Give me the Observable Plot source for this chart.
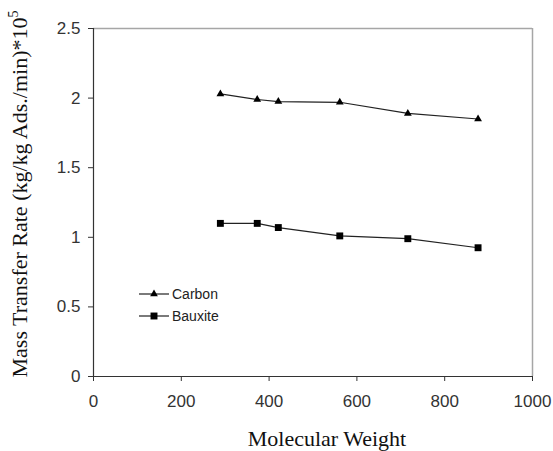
<!DOCTYPE html>
<html>
<head>
<meta charset="utf-8">
<script src="https://cdn.jsdelivr.net/npm/d3@7"></script>
<script src="https://cdn.jsdelivr.net/npm/@observablehq/plot@0.6"></script>
<style>
  html, body { margin: 0; padding: 0; background: #fff; }
  #chart svg { display: block; }
</style>
</head>
<body>
<div id="chart"></div>
<script>
// Molecular weight of the adsorbate (x) for each measurement
const molecularWeight = [289, 373, 421, 561, 716, 876];
// Mass transfer rate (kg/kg Ads./min) * 10^5 for each adsorbent
const carbonRate   = [2.03, 1.99, 1.975, 1.97, 1.89, 1.85];
const bauxiteRate  = [1.10, 1.10, 1.07, 1.01, 0.99, 0.925];
const seriesNames  = ["Carbon", "Bauxite"];
const xTicks = [0, 200, 400, 600, 800, 1000];
const yTicks = [0, 0.5, 1, 1.5, 2, 2.5];

const carbon  = molecularWeight.map((x, i) => ({x, y: carbonRate[i]}));
const bauxite = molecularWeight.map((x, i) => ({x, y: bauxiteRate[i]}));

const W = 553, H = 451;
const margin = {left: 93, right: 21, top: 28, bottom: 75};
const tickFont = "'Liberation Sans', Arial, sans-serif";
const titleFont = "'Liberation Serif', 'Times New Roman', serif";

const plot = Plot.plot({
  width: W,
  height: H,
  marginLeft: margin.left,
  marginRight: margin.right,
  marginTop: margin.top,
  marginBottom: margin.bottom,
  style: {background: "#fff", fontFamily: tickFont, fontSize: "17px", color: "#222"},
  x: {domain: [0, 1000]},
  y: {domain: [0, 2.5]},
  marks: [
    // light frame on the top and right sides
    Plot.ruleY([2.5], {stroke: "#a6a6a6", strokeWidth: 1.5}),
    Plot.ruleX([1000], {stroke: "#a6a6a6", strokeWidth: 1.5}),
    // axes
    Plot.axisX({ticks: xTicks, tickSize: 5, tickPadding: 13, label: null,
      stroke: "#333", fill: "#333", fontSize: 17, tickFormat: d => String(d)}),
    Plot.axisY({ticks: yTicks, tickSize: 5, tickPadding: 8, label: null,
      stroke: "#333", fill: "#333", fontSize: 17, tickFormat: d => String(d)}),
    Plot.ruleY([0], {stroke: "#333", strokeWidth: 1.2}),
    Plot.ruleX([0], {stroke: "#333", strokeWidth: 1.2}),
    // series
    Plot.line(carbon, {x: "x", y: "y", stroke: "#222", strokeWidth: 1.2}),
    Plot.dot(carbon, {x: "x", y: "y", symbol: "triangle", r: 2.9, fill: "#000", stroke: "none"}),
    Plot.line(bauxite, {x: "x", y: "y", stroke: "#222", strokeWidth: 1.2}),
    Plot.dot(bauxite, {x: "x", y: "y", symbol: "square", r: 3.9, fill: "#000", stroke: "none"})
  ]
});

document.getElementById("chart").appendChild(plot);

const svg = d3.select(plot);

// axis titles
svg.append("text")
  .attr("x", 327).attr("y", 446)
  .attr("text-anchor", "middle")
  .style("font-family", titleFont).style("font-size", "22px").attr("fill", "#111")
  .text("Molecular Weight");

const yTitle = svg.append("text")
  .attr("transform", "translate(27,194) rotate(-90)")
  .attr("text-anchor", "middle")
  .style("font-family", titleFont).style("font-size", "22px").attr("fill", "#111");
yTitle.append("tspan").text("Mass Transfer Rate (kg/kg Ads./min)*10");
yTitle.append("tspan").attr("dy", -9).style("font-size", "14px").text("5");

// legend
const legend = svg.append("g").style("font-family", tickFont).style("font-size", "14px")
  .attr("text-anchor", "start");
const legendRows = [
  {name: seriesNames[0], y: 294, symbol: d3.symbolTriangle, size: 26},
  {name: seriesNames[1], y: 316, symbol: d3.symbolSquare, size: 48}
];
legendRows.forEach(row => {
  legend.append("line").attr("x1", 139).attr("x2", 169).attr("y1", row.y).attr("y2", row.y)
    .attr("stroke", "#222").attr("stroke-width", 1.2);
  legend.append("path").attr("d", d3.symbol(row.symbol, row.size)())
    .attr("transform", `translate(154,${row.y})`).attr("fill", "#000");
  legend.append("text").attr("x", 172).attr("y", row.y).attr("dy", "0.35em")
    .attr("text-anchor", "start").attr("fill", "#222").text(row.name);
});
</script>
</body>
</html>
